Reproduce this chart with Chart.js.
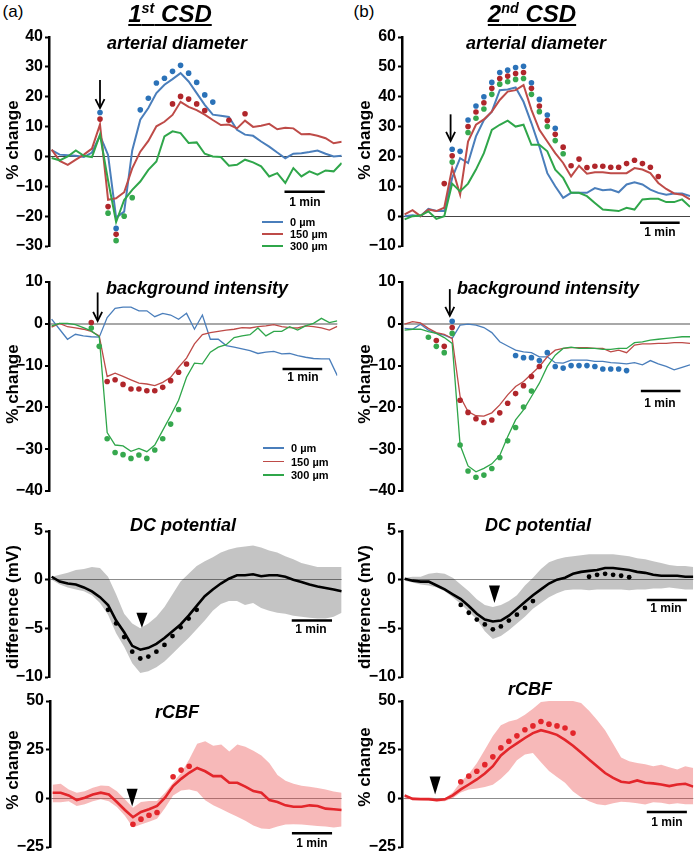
<!DOCTYPE html>
<html>
<head>
<meta charset="utf-8">
<script src="https://cdn.jsdelivr.net/npm/chart.js@4.4.1/dist/chart.umd.min.js"></script>
<style>
html, body { margin: 0; padding: 0; background: #fff; overflow: hidden; }
body { width: 700px; height: 855px; position: relative; font-family: "Liberation Sans", Arial, sans-serif; color: #000; }
canvas { position: absolute; }
.t { position: absolute; transform: translate(-50%, -50%); white-space: nowrap; line-height: 1; }
.hd { font-size: 24px; font-weight: bold; font-style: italic; text-decoration: underline; text-decoration-thickness: 2px; text-underline-offset: 2px; }
.sp { font-size: 0.6em; vertical-align: 0.65em; line-height: 0; }
.pt { font-size: 18px; font-weight: bold; font-style: italic; }
.yt { font-size: 17px; font-weight: bold; transform: translate(-50%, -50%) rotate(-90deg); }
.sb { font-size: 12px; font-weight: bold; }
.lg { position: absolute; font-size: 11px; font-weight: bold; line-height: 1; transform: translateY(-50%); white-space: nowrap; }
.ln { position: absolute; height: 2px; }
</style>
</head>
<body>
<script>
const FONT = '"Liberation Sans", Arial, sans-serif';
const N = 37;           // samples per trace, 12 s apart
const PAD = 14;

// ---- arterial diameter, 1st CSD (% change)
const artBlue1 = [2.1, 0.6, 0.4, 0.2, -0.2, 1.3, 7, 0.5, -20.5, -18.5, 2, 12.3, 16.2, 21.2, 24, 25.9, 27.9, 25.1, 21.2, 17.3, 14, 13.6, 13.2, 8.9, 7.3, 6.9, 5, 3.3, 1.3, -0.6, 0.9, 1.1, 1.5, 2, 0.9, 0, 0.2];
const artRed1 = [2.3, -1.5, -2.8, -1.1, 0.6, 2.6, 10.7, -14.5, -14, -12, -4, 1.6, 5.2, 10.1, 11.6, 13.9, 18.3, 16.6, 15.5, 14, 12.2, 10.5, 10.7, 9.4, 12, 9.9, 10.3, 10.9, 9.1, 9.6, 9.4, 7.4, 7.5, 6.9, 6.1, 4.4, 4.9];
const artGreen1 = [-0.5, -1.3, 0, 2, 0.2, -0.2, 7.3, -8, -22, -14.6, -11.2, -8.4, -4.5, -1.7, 6.7, 8.4, 7.8, 4.5, 4.7, 0.9, 0, -0.2, -3.1, -2.8, -1.1, -2, -3.3, -6.7, -5.6, -8.9, -3.9, -6.7, -5, -6.1, -4.7, -5, -2.2];
const artBlueDotIdx1 = [6, 8, 11, 12, 13, 14, 15, 16, 17, 18, 19, 20];
const artBlueDot1 = [14.7, -24.1, 15.6, 19.5, 24.6, 26.2, 28.5, 30.5, 27.9, 24.8, 20.6, 18.2];
const artRedDotIdx1 = [6, 7, 8, 15, 16, 17, 18, 19, 22, 24];
const artRedDot1 = [12.5, -16.8, -26.1, 17.6, 20.1, 19.2, 17.6, 15.4, 12.1, 14.3];
const artGreenDotIdx1 = [7, 8, 9, 10];
const artGreenDot1 = [-19, -28.2, -20, -13.8];

// ---- arterial diameter, 2nd CSD
const artBlue2 = [0, 0.3, 0, 2.4, 1.7, 1.7, 12.8, 19.4, 17.8, 26.7, 32.2, 35, 42.2, 42.4, 43.1, 38.3, 31.1, 23.3, 14.4, 10, 6.1, 7.8, 7.8, 7.8, 9.4, 8.7, 8.9, 8, 10.6, 11.3, 10.6, 8.9, 7.8, 7.2, 7.6, 7.6, 6.7];
const artRed2 = [0.6, 2, 0, 2.2, 1.7, 2.8, 16.1, 7.2, 25, 30.6, 32.4, 35, 38.9, 41.7, 42.2, 43.9, 35.6, 28.9, 25, 21.1, 17.8, 13.3, 16.9, 14.2, 14.7, 14.7, 14.4, 14.4, 14.4, 16.1, 15.6, 14.4, 11.1, 9.1, 7.6, 7.2, 5.6];
const artGreen2 = [-1.1, 0, 0.2, 1.6, -0.9, 0, 10.9, 8.3, 10.9, 15.6, 21.1, 28.9, 30.6, 32, 30, 30.6, 23.9, 23.9, 21.7, 15.6, 12.8, 7.8, 7.8, 6.7, 4.4, 2.2, 2, 1.7, 2.8, 2.2, 5.6, 5.8, 5.8, 4.7, 4.7, 5.6, 3.1];
const artBlueDotIdx2 = [6, 7, 8, 9, 10, 11, 12, 13, 14, 15, 16, 17, 18, 19];
const artBlueDot2 = [22.4, 21.7, 32.2, 36.9, 40, 44.8, 48.1, 48.9, 49.8, 50.2, 44.7, 39.1, 33.9, 29.4];
const artRedDotIdx2 = [5, 6, 8, 9, 10, 11, 12, 13, 14, 15, 16, 17, 18, 19, 20, 21, 22, 23, 24, 25, 26, 27, 28, 29, 30, 31, 32];
const artRedDot2 = [10.9, 20.2, 30, 34.9, 38, 42.8, 46.1, 46.9, 47.8, 48.1, 42.8, 36.9, 32, 27.4, 23.1, 16.9, 19.1, 16.3, 16.7, 16.7, 16.4, 16.4, 17.6, 18.7, 17.6, 16.4, 13.3];
const artGreenDotIdx2 = [6, 8, 9, 10, 11, 12, 13, 14, 15, 16, 17, 18, 19, 20];
const artGreenDot2 = [18.1, 28, 32.8, 35.9, 40.8, 44.2, 45, 45.8, 46.1, 40.8, 35, 30, 25.3, 20.9];

// ---- background intensity, 1st CSD
const bgBlue1 = [1.1, -1.3, -3.7, -2.5, -2.9, -3.1, -3.2, 1.5, 3.7, 4, 4, 3.1, 3.1, 1.7, 2.5, 2.1, 1.1, 2.5, -1.3, 2.1, -3.7, -3.7, -5.2, -5.6, -6, -6.4, -7.1, -6.8, -6.6, -7.2, -7.1, -7.6, -8, -8.3, -8.4, -8.4, -12.4];
const bgRed1 = [-0.8, 0.1, -0.7, -1, -1.3, -1.8, -2.9, -12.6, -11.8, -12.6, -13.4, -14.2, -14.4, -14.8, -14, -12.8, -10.4, -8.2, -4.8, -2.6, -2.1, -1.8, -1.5, -1.3, -0.9, -1, -0.7, -0.5, -0.2, -0.7, -0.9, -1, -0.5, -0.7, -1, -1.5, -0.6];
const bgGreen1 = [-0.5, 0.1, 0.1, -0.2, -0.9, -1.7, -3.1, -26, -29, -29.2, -30.5, -29.8, -30.6, -29, -25.5, -22, -18.3, -12.8, -9.4, -9.6, -6.8, -5.6, -5, -3.3, -2.9, -2.6, -1, -2.9, -1.8, -1.8, -0.7, -1.5, -0.5, 0.1, 1.3, 0.3, 0.7];
const bgRedDotIdx1 = [5, 7, 8, 9, 10, 11, 12, 13, 14, 15, 16, 17];
const bgRedDot1 = [0.3, -13.8, -13.4, -14.5, -15.6, -15.6, -16, -16, -15.2, -13.6, -11.6, -9.6];
const bgGreenDotIdx1 = [5, 6, 7, 8, 9, 10, 11, 12, 13, 14, 15, 16];
const bgGreenDot1 = [-1, -5.4, -27.5, -30.8, -31.3, -32.2, -31.4, -32.2, -30.2, -27.5, -24, -20.5];

// ---- background intensity, 2nd CSD
const bgBlue2 = [-1.1, -1.3, -0.1, -1.5, -2.3, -2.7, -3.5, -0.3, -0.1, -0.3, -0.9, -2.1, -4.3, -5.3, -6.3, -6.7, -6.9, -7.9, -7.9, -9.3, -9.4, -8.7, -8.7, -8.7, -9, -9, -9.3, -9.4, -9.6, -9.3, -9.8, -8.8, -9.6, -10.2, -11, -10.4, -9.8];
const bgRed2 = [-0.1, 0.5, 0.2, -1.1, -2.1, -2.5, -3.5, -17.4, -21, -22, -22.1, -21.3, -19.4, -17, -15, -13.8, -12, -10.2, -7.9, -6.3, -5.9, -5.7, -5.7, -5.7, -5.9, -5.9, -6.7, -6.3, -6.9, -5.1, -4.8, -4.8, -4.7, -4.7, -4.5, -4.5, -4.7];
const bgGreen2 = [-1.5, -1.3, -1.3, -1.9, -2.3, -3.3, -4.7, -29, -34, -35.4, -34.6, -33.5, -31.5, -27, -23, -20.6, -17.4, -14.2, -10.2, -7.5, -5.9, -5.6, -5.9, -5.9, -5.9, -6.1, -6.1, -5.9, -5.9, -4.5, -4.3, -3.9, -3.7, -3.5, -3.3, -3.1, -3.1];
const bgBlueDotIdx2 = [6, 14, 15, 16, 17, 18, 19, 20, 21, 22, 23, 24, 25, 26, 27, 28];
const bgBlueDot2 = [0.6, -7.6, -8.1, -8.1, -8.8, -6.9, -10.2, -10.6, -10, -10, -10, -10.2, -10.8, -10.8, -10.8, -11.2];
const bgRedDotIdx2 = [4, 5, 6, 7, 8, 9, 10, 11, 12, 13, 14, 15, 16, 17];
const bgRedDot2 = [-4, -5.4, -0.9, -18.3, -21.2, -22.7, -23.6, -23, -21.3, -19, -16.7, -14.8, -12.6, -10.2];
const bgGreenDotIdx2 = [3, 4, 5, 6, 7, 8, 9, 10, 11, 12, 13, 14, 15, 16];
const bgGreenDot2 = [-3.2, -5.4, -6.9, -2.3, -29, -35.2, -36.7, -36.2, -34.6, -32, -28, -24.8, -19.9, -16.1];

// ---- DC potential (mV), mean and band
const dcMean1 = [0.3, -0.2, -0.4, -0.5, -0.8, -1.2, -1.8, -2.6, -4.2, -5.4, -6.8, -7.2, -7, -6.6, -6, -5.3, -4.6, -3.7, -2.7, -1.7, -1, -0.4, 0.1, 0.45, 0.45, 0.55, 0.35, 0.45, 0.45, 0.3, 0, -0.25, -0.5, -0.7, -0.85, -1, -1.2];
const dcUpper1 = [0.3, 0.5, 0.7, 1, 1.1, 1.3, 1.2, 0.3, -1.5, -3.5, -4.5, -5, -4.5, -3.8, -2.8, -1.5, -0.2, 0.6, 1.4, 1.9, 2.3, 2.8, 3.1, 3.3, 3.4, 3.5, 3.3, 3, 2.8, 2.4, 2.1, 1.7, 1.5, 1.3, 1.3, 1.3, 1.3];
const dcLower1 = [0, -0.5, -0.8, -1, -1.2, -1.6, -2.4, -3.6, -5.5, -6.9, -8.6, -9.6, -9.4, -9, -8.4, -7.6, -6.8, -6, -5.1, -4.2, -3.2, -2.5, -2.2, -2.2, -2.6, -2.4, -2.9, -3.2, -3.4, -3.5, -3.7, -3.8, -3.9, -4, -4, -3.8, -3.4];
const dcDotIdx1 = [7, 8, 9, 10, 11, 12, 13, 14, 15, 16, 17, 18];
const dcDot1 = [-3.1, -4.5, -5.9, -7.4, -8.1, -7.9, -7.4, -6.7, -5.8, -4.9, -4, -3.1];

const dcMean2 = [0.1, -0.1, -0.2, -0.2, -0.6, -1, -1.5, -2, -2.7, -3.5, -4.1, -4.3, -4.2, -3.7, -3, -2.3, -1.6, -1, -0.4, 0, 0.2, 0.6, 0.8, 0.9, 1, 1.2, 1.2, 1.1, 1, 0.8, 0.7, 0.5, 0.4, 0.4, 0.4, 0.3, 0.3];
const dcUpper2 = [0.2, 0.3, 0.3, 0.6, 0.7, 0.6, 0.2, -0.5, -1.2, -2, -2.6, -2.8, -2.6, -2.2, -1.6, -0.6, 0.2, 1.1, 1.8, 2.1, 2.3, 2.4, 2.5, 2.6, 2.6, 2.6, 2.6, 2.5, 2.4, 2.2, 2.1, 1.9, 1.7, 1.5, 1.4, 1.4, 1.3];
const dcLower2 = [-0.1, -0.3, -0.5, -0.6, -0.8, -1.2, -1.8, -2.5, -3.3, -4.1, -5.3, -6.1, -5.8, -5.2, -4.5, -3.8, -3, -2.4, -1.8, -1.4, -1.1, -1, -1, -1.1, -1, -1, -1, -1, -1.1, -1, -1, -0.9, -0.9, -0.8, -0.9, -1, -1];
const dcDotIdx2 = [7, 8, 9, 10, 11, 12, 13, 14, 15, 16, 23, 24, 25, 26, 27, 28];
const dcDot2 = [-2.6, -3.4, -4.1, -4.6, -5.1, -4.8, -4.2, -3.6, -2.9, -2.2, 0.3, 0.5, 0.6, 0.5, 0.4, 0.25];

// ---- rCBF (% change), mean and band
const cbfMean1 = [2.9, 2.9, 1.5, -0.9, 0.3, 2, 2.9, 2, -1.9, -6, -9.7, -7, -5.6, -3.9, 0.3, 6.3, 10, 13.1, 15.6, 13.9, 11.4, 11.4, 8, 8, 6, 3.7, 2.9, -0.9, -1.9, -3.6, -4.3, -4.3, -3.6, -3.9, -5.3, -5.6, -6];
const cbfUpper1 = [7, 7.5, 4.5, 2.9, 3.7, 5.4, 6.6, 6.3, 3.7, -0.5, -4.8, -1.9, -1.4, -1.4, 2.9, 8, 13, 20, 28, 29.3, 27, 27.6, 24, 27.6, 26.5, 24.5, 22, 18, 12, 9, 7.5, 6.5, 6, 5.3, 4.6, 3.5, 2.9];
const cbfLower1 = [-2, -2, -1.5, -4, -3, -1.5, -0.5, -1.5, -4.5, -9, -15, -13.5, -12, -10.5, -5, 1.5, 4, 4.5, 3.5, -1, -3.5, -5.5, -7.5, -9.5, -11.5, -14, -15.5, -15.8, -14.5, -13.5, -13.3, -13.5, -13.8, -14.2, -14.5, -15, -14.5];
const cbfDotIdx1 = [10, 11, 12, 13, 15, 16, 17];
const cbfDot1 = [-13.3, -10.7, -8.7, -7.3, 11.1, 14.5, 16.5];

const cbfMean2 = [1.5, -0.3, -0.5, -0.5, -1, -0.5, 1.5, 4.6, 7.1, 9.7, 12.8, 16.5, 22, 25.5, 28.2, 31, 33.5, 35, 34, 32.6, 30, 27, 23.5, 20, 16.5, 13, 10.5, 8.5, 8, 9.2, 8, 7.7, 7.1, 6.3, 7.1, 7.5, 6];
const cbfUpper2 = [1.5, 0.5, 0.5, 0.5, 0, 0, 3, 8.5, 12.5, 18, 25, 32, 37.5, 39.5, 40.5, 43, 46, 49.5, 50, 50, 50, 50, 49, 45, 40.3, 35, 28, 21, 19, 18.2, 17.5, 16.5, 17.3, 16, 14.8, 16.5, 15.6];
const cbfLower2 = [-0.5, -0.5, -0.8, -1.2, -1.5, -1.5, 0, 3, 4.5, 5, 5.8, 7, 10, 14, 19.5, 22.5, 23.3, 18.5, 14, 11, 8, 3.5, 0.5, -1.5, -3, -3.5, -2.5, -1.8, -2, -2.5, -3.2, -2, -2.3, -3, -2.5, -3, -3.1];
const cbfDotIdx2 = [7, 8, 9, 10, 11, 12, 13, 14, 15, 16, 17, 18, 19, 20, 21];
const cbfDot2 = [8.5, 11.4, 13.9, 17.3, 21.3, 25.9, 29.3, 32.1, 35.2, 37.2, 39.5, 38.1, 37.2, 36.1, 33.5];

const BLUE = '#4a7ebb', RED = '#be4b48', GREEN = '#2fa64a';
const BLUE_D = '#2b72b8', RED_D = '#b0262b', GREEN_D = '#36a84e';
const CBF_RED = '#e3262b';

function pts(vals) { return vals.map((v, i) => ({x: i, y: v})); }
function dotPts(ix, vals) { return ix.map((x, k) => ({x: x, y: vals[k]})); }

function line(vals, color, w) {
  return {data: pts(vals), borderColor: color, borderWidth: w, pointRadius: 0, tension: 0, fill: false};
}
function dots(ix, vals, color, r) {
  return {data: dotPts(ix, vals), showLine: false, pointRadius: r || 2.8, pointBackgroundColor: color,
          pointBorderWidth: 0, borderColor: color, fill: false};
}
function band(upper, lower, color) {
  return [
    {data: pts(upper), borderWidth: 0, pointRadius: 0, fill: '+1', backgroundColor: color, tension: 0},
    {data: pts(lower), borderWidth: 0, pointRadius: 0, fill: false, tension: 0}
  ];
}

// arrows, arrow heads and 1-min scale bars, placed through the chart scales
const marksPlugin = {
  id: 'marks',
  afterDatasetsDraw(chart, args, o) {
    const ctx = chart.ctx, x = chart.scales.x, y = chart.scales.y;
    ctx.save();
    ctx.strokeStyle = '#000';
    ctx.fillStyle = '#000';
    if (o.arrow) {
      const px = x.getPixelForValue(o.arrow.i);
      const y1 = y.getPixelForValue(o.arrow.from), y2 = y.getPixelForValue(o.arrow.to);
      ctx.lineWidth = 1.8;
      ctx.beginPath(); ctx.moveTo(px, y1); ctx.lineTo(px, y2 - 1); ctx.stroke();
      ctx.beginPath(); ctx.moveTo(px - 4.5, y2 - 9); ctx.lineTo(px, y2); ctx.lineTo(px + 4.5, y2 - 9); ctx.stroke();
    }
    if (o.head) {
      const px = x.getPixelForValue(o.head.i);
      const y1 = y.getPixelForValue(o.head.top), y2 = y.getPixelForValue(o.head.tip);
      ctx.beginPath(); ctx.moveTo(px - 5.5, y1); ctx.lineTo(px + 5.5, y1); ctx.lineTo(px, y2); ctx.closePath(); ctx.fill();
    }
    if (o.bar) {
      const yb = y.getPixelForValue(o.bar.y);
      ctx.lineWidth = 2.5;
      ctx.beginPath();
      ctx.moveTo(x.getPixelForValue(o.bar.from), yb);
      ctx.lineTo(x.getPixelForValue(o.bar.from + 5), yb);
      ctx.stroke();
    }
    ctx.restore();
  }
};

function panel(o) {
  const left = o.col === 0 ? 0 : 350;
  const c = document.createElement('canvas');
  c.width = 350;
  c.height = o.areaBottom - o.areaTop + 2 * PAD;
  c.style.left = left + 'px';
  c.style.top = (o.areaTop - PAD) + 'px';
  document.body.appendChild(c);
  new Chart(c, {
    type: 'line',
    data: {datasets: o.datasets},
    options: {
      responsive: false,
      animation: false,
      events: [],
      layout: {padding: {top: PAD, bottom: PAD, left: 0, right: left + 350 - o.lastPx}},
      plugins: {legend: {display: false}, tooltip: {enabled: false}, marks: o.marks},
      scales: {
        x: {type: 'linear', display: false, min: -0.33, max: N - 1},
        y: {
          min: o.min, max: o.max,
          afterFit: s => { s.width = o.axisX - left; },
          ticks: {
            stepSize: o.step, color: '#000', padding: 2,
            font: {family: FONT, size: 16, weight: 'bold'},
            callback: v => String(v).replace('-', '\u2212')
          },
          grid: {
            color: ctx => (ctx.tick && ctx.tick.value === 0) ? o.zeroColor : 'rgba(0,0,0,0)',
            lineWidth: o.zeroWidth,
            tickColor: '#000', tickLength: 4, tickWidth: 2
          },
          border: {display: true, color: '#000', width: 2.5}
        }
      }
    },
    plugins: [marksPlugin]
  });
}

// row 1: arterial diameter
panel({col: 0, axisX: 49, lastPx: 341.7, areaTop: 37, areaBottom: 246, min: -30, max: 40, step: 10,
  zeroColor: '#444', zeroWidth: 1,
  marks: {arrow: {i: 6, from: 25.6, to: 16.2}, bar: {from: 28.9, y: -11.8}},
  datasets: [
    dots(artBlueDotIdx1, artBlueDot1, BLUE_D), dots(artRedDotIdx1, artRedDot1, RED_D), dots(artGreenDotIdx1, artGreenDot1, GREEN_D),
    line(artGreen1, GREEN, 2), line(artRed1, RED, 2), line(artBlue1, BLUE, 2)
  ]});
panel({col: 1, axisX: 402, lastPx: 690, areaTop: 37, areaBottom: 246, min: -10, max: 60, step: 10,
  zeroColor: '#444', zeroWidth: 1,
  marks: {arrow: {i: 5.8, from: 34.1, to: 25.2}, bar: {from: 29.7, y: -2.2}},
  datasets: [
    dots(artBlueDotIdx2, artBlueDot2, BLUE_D), dots(artRedDotIdx2, artRedDot2, RED_D), dots(artGreenDotIdx2, artGreenDot2, GREEN_D),
    line(artGreen2, GREEN, 2), line(artRed2, RED, 2), line(artBlue2, BLUE, 2)
  ]});

// row 2: background intensity
panel({col: 0, axisX: 49, lastPx: 337.3, areaTop: 282, areaBottom: 491, min: -40, max: 10, step: 10,
  zeroColor: '#a8a8a8', zeroWidth: 2,
  marks: {arrow: {i: 5.8, from: 7.5, to: 0.7}, bar: {from: 29.1, y: -10.8}},
  datasets: [
    dots(bgRedDotIdx1, bgRedDot1, RED_D), dots(bgGreenDotIdx1, bgGreenDot1, GREEN_D),
    line(bgGreen1, GREEN, 1.3), line(bgRed1, RED, 1.3), line(bgBlue1, BLUE, 1.3)
  ]});
panel({col: 1, axisX: 402, lastPx: 690, areaTop: 282, areaBottom: 491, min: -40, max: 10, step: 10,
  zeroColor: '#a8a8a8', zeroWidth: 2,
  marks: {arrow: {i: 5.7, from: 8.3, to: 1.9}, bar: {from: 29.8, y: -16.1}},
  datasets: [
    dots(bgBlueDotIdx2, bgBlueDot2, BLUE_D), dots(bgRedDotIdx2, bgRedDot2, RED_D), dots(bgGreenDotIdx2, bgGreenDot2, GREEN_D),
    line(bgGreen2, GREEN, 1.3), line(bgRed2, RED, 1.3), line(bgBlue2, BLUE, 1.3)
  ]});

// row 3: DC potential
panel({col: 0, axisX: 49, lastPx: 341.7, areaTop: 531, areaBottom: 677, min: -10, max: 5, step: 5,
  zeroColor: '#8c8c8c', zeroWidth: 1,
  marks: {head: {i: 11.2, top: -3.4, tip: -4.95}, bar: {from: 29.8, y: -4.2}},
  datasets: [
    dots(dcDotIdx1, dcDot1, '#000', 2.4), line(dcMean1, '#000', 2.6),
    ...band(dcUpper1, dcLower1, 'rgba(0,0,0,0.23)')
  ]});
panel({col: 1, axisX: 402, lastPx: 693.3, areaTop: 531, areaBottom: 677, min: -10, max: 5, step: 5,
  zeroColor: '#8c8c8c', zeroWidth: 1,
  marks: {head: {i: 11.2, top: -0.6, tip: -2.4}, bar: {from: 30.2, y: -2.1}},
  datasets: [
    dots(dcDotIdx2, dcDot2, '#000', 2.4), line(dcMean2, '#000', 2.6),
    ...band(dcUpper2, dcLower2, 'rgba(0,0,0,0.23)')
  ]});

// row 4: rCBF
panel({col: 0, axisX: 50, lastPx: 341.7, areaTop: 701, areaBottom: 847, min: -25, max: 50, step: 25,
  zeroColor: '#8c8c8c', zeroWidth: 1,
  marks: {head: {i: 9.9, top: 4.9, tip: -4.2}, bar: {from: 29.8, y: -18}},
  datasets: [
    dots(cbfDotIdx1, cbfDot1, CBF_RED), line(cbfMean1, CBF_RED, 2.6),
    ...band(cbfUpper1, cbfLower1, 'rgba(232,60,60,0.36)')
  ]});
panel({col: 1, axisX: 402, lastPx: 693.3, areaTop: 701, areaBottom: 847, min: -25, max: 50, step: 25,
  zeroColor: '#8c8c8c', zeroWidth: 1,
  marks: {head: {i: 3.8, top: 11.2, tip: 2}, bar: {from: 30.2, y: -7}},
  datasets: [
    dots(cbfDotIdx2, cbfDot2, CBF_RED), line(cbfMean2, CBF_RED, 2.6),
    ...band(cbfUpper2, cbfLower2, 'rgba(232,60,60,0.36)')
  ]});

// ---- text
function txt(html, x, y, cls) {
  const d = document.createElement('div');
  d.className = 't ' + cls;
  d.innerHTML = html;
  d.style.left = x + 'px';
  d.style.top = y + 'px';
  document.body.appendChild(d);
}
txt('(a)', 13, 11, '');
txt('(b)', 364, 11, '');
document.querySelectorAll('.t').forEach(d => { d.style.fontSize = '17px'; });
txt('1<span class="sp">st</span> CSD', 170, 14, 'hd');
txt('2<span class="sp">nd</span> CSD', 532, 14, 'hd');

txt('arterial diameter', 177, 43, 'pt');
txt('arterial diameter', 536, 43, 'pt');
txt('background intensity', 197, 288, 'pt');
txt('background intensity', 548, 288, 'pt');
txt('DC potential', 183, 525, 'pt');
txt('DC potential', 538, 525, 'pt');
txt('rCBF', 177, 712, 'pt');
txt('rCBF', 530, 689, 'pt');

txt('% change', 12, 140, 'yt');
txt('% change', 364, 140, 'yt');
txt('% change', 12, 384, 'yt');
txt('% change', 364, 384, 'yt');
txt('difference (mV)', 12, 607, 'yt');
txt('difference (mV)', 364, 607, 'yt');
txt('% change', 12, 770, 'yt');
txt('% change', 364, 767, 'yt');

[[305, 202], [660, 232], [303, 377], [660, 403], [311, 629], [666, 608], [312, 843], [667, 822]]
  .forEach(p => txt('1 min', p[0], p[1], 'sb'));

// legends
const legendLabels = ['0 \u00b5m', '150 \u00b5m', '300 \u00b5m'];
const legendColors = [BLUE, RED, GREEN];
function legend(x, ys, lw) {
  ys.forEach((yy, k) => {
    const l = document.createElement('div');
    l.className = 'ln';
    l.style.left = x + 'px'; l.style.width = '21px';
    l.style.top = (yy - lw / 2) + 'px'; l.style.height = lw + 'px';
    l.style.background = legendColors[k];
    document.body.appendChild(l);
    const t = document.createElement('div');
    t.className = 'lg';
    t.textContent = legendLabels[k];
    t.style.left = (x + 28) + 'px'; t.style.top = yy + 'px';
    document.body.appendChild(t);
  });
}
legend(262, [222, 234, 246], 2);
legend(263, [448, 461.5, 475], 1.5);
</script>
</body>
</html>
